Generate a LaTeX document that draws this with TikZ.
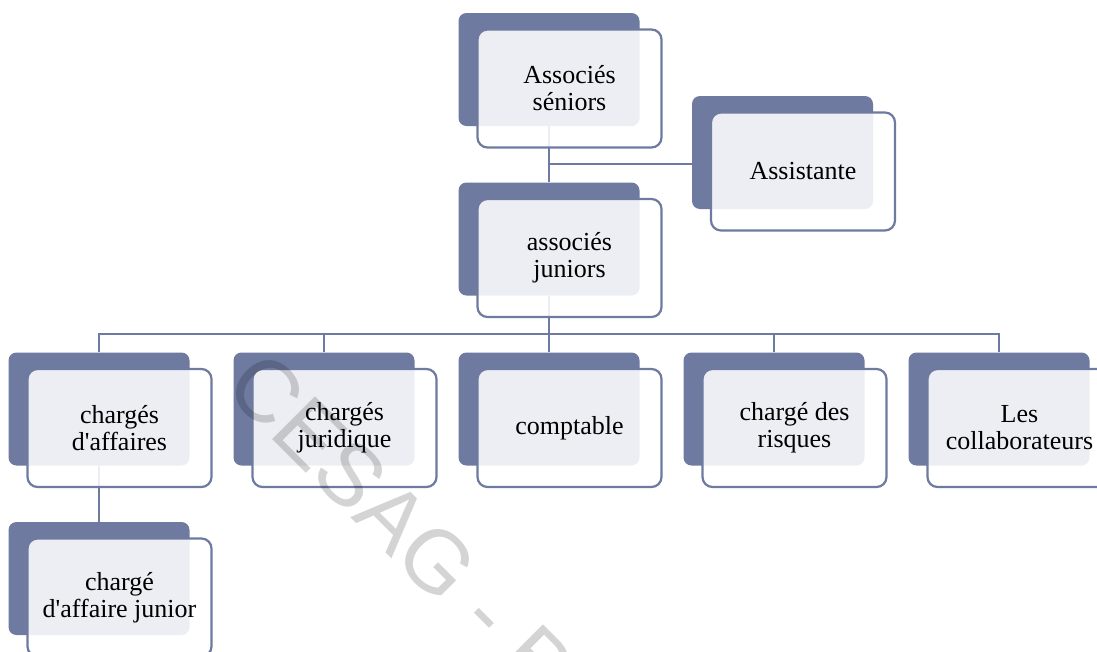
\documentclass[tikz,border=0pt]{standalone}
\usepackage{fontspec}
\setmainfont{Liberation Serif}[Ligatures=TeXOff]
\newfontfamily\wmfont{Liberation Sans}
\pgfdeclarelayer{background}
\pgfsetlayers{background,main}
\definecolor{slate}{HTML}{6E7AA0}
\tikzset{
  backbox/.style={fill=slate, draw=none, rounded corners=8pt,
    minimum width=181pt, minimum height=113pt, inner sep=0pt},
  frontbox/.style={draw=slate, line width=2.2pt, fill=white, fill opacity=0.88,
    text opacity=1, rounded corners=10pt, minimum width=184pt,
    minimum height=118pt, inner sep=2pt, align=center,
    font=\fontsize{26}{27}\selectfont},
  link/.style={draw=slate, line width=2.2pt},
}
% one chart entry: dark back plate and the lighter card laid over it
\newcommand\orgentry[4]{%
  \node[backbox] (#1b) at (#2,#3) {};
  \node[frontbox] (#1) at (#2+20.5,#3+19) {#4};
}
\begin{document}
\begin{tikzpicture}[x=1pt,y=-1pt]
\useasboundingbox (0,0) rectangle (1097,651);

\orgentry{sen}{549}{69.5}{Associés\\séniors}
\orgentry{ast}{782.5}{152.5}{Assistante}
\orgentry{jun}{549}{239}{associés\\juniors}
\orgentry{caf}{99}{409}{chargés\\d'affaires}
\orgentry{cju}{324}{409}{chargés\\juridique}
\orgentry{cpt}{549}{409}{comptable}
\orgentry{crq}{774}{409}{chargé des\\risques}
\orgentry{col}{999}{409}{Les\\collaborateurs}
\orgentry{caj}{99}{578.5}{chargé\\d'affaire junior}

\coordinate (tee) at (549,164);
\coordinate (bus) at (549,334);

\begin{pgfonlayer}{background}
  \draw[link] (senb.south) -- (junb.north);
  \draw[link] (tee) -- (tee -| astb.west);
  \draw[link] (junb.south) -- (bus);
  \draw[link] (cafb.north) |- (bus) -| (colb.north);
  \draw[link] (cjub.north) -- (cjub.north |- bus);
  \draw[link] (cptb.north) -- (cptb.north |- bus);
  \draw[link] (crqb.north) -- (crqb.north |- bus);
  \draw[link] (cafb.south) -- (cajb.north);
\end{pgfonlayer}

% diagonal watermark laid over the chart
\node[rotate=-45, text=black, text opacity=0.17, inner sep=0pt,
      font=\wmfont\fontsize{88}{88}\selectfont] (wm) at (401,525) {CESAG - B};
\end{tikzpicture}
\end{document}
